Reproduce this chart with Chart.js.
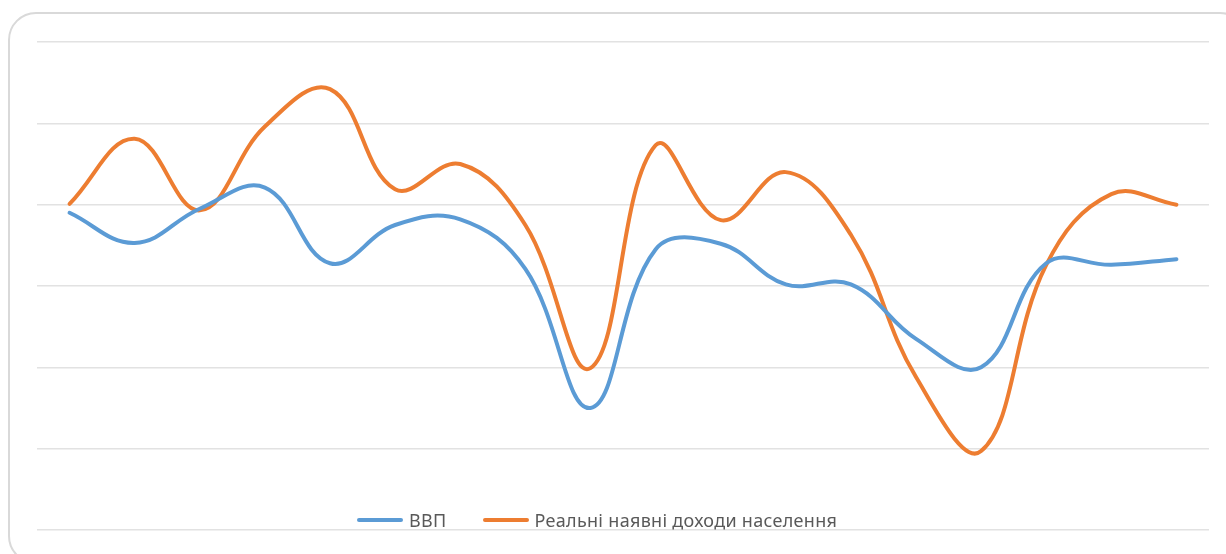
<!DOCTYPE html>
<html lang="uk">

<head>
    <meta charset="UTF-8">
    <title>ВВП та реальні наявні доходи населення</title>
    <script src="https://cdn.jsdelivr.net/npm/chart.js"></script>
    <style>
        html, body { margin: 0; padding: 0; background: #fff; overflow: hidden; }
        body { width: 1226px; height: 554px; position: relative; }
        .frame {
            position: absolute; left: 8px; top: 12px; width: 1240px; height: 552px;
            border: 2px solid #d9d9d9; border-radius: 28px; box-sizing: border-box;
        }
        .wrap { position: absolute; left: 0; top: 0; width: 1226px; height: 554px; }
        #legend {
            position: absolute; top: 508px; left: 357px; height: 24px;
            display: flex; align-items: center;
            font-family: "Noto Sans", sans-serif; font-size: 18px; letter-spacing: 0.3px; color: #595959;
        }
        #legend .item { display: flex; align-items: center; margin-right: 36px; }
        #legend .mark { width: 46px; height: 4px; border-radius: 2px; margin-right: 6px; }
    </style>
</head>

<body>
    <div class="frame"></div>
    <div class="wrap"><canvas id="chart"></canvas></div>
    <div id="legend"></div>
    <script>
        // роки (підписи осі X не показані на малюнку)
        const years = ['2001', '2002', '2003', '2004', '2005', '2006', '2007', '2008', '2009',
            '2010', '2011', '2012', '2013', '2014', '2015', '2016', '2017', '2018'];

        // ВВП, % зміни
        const gdp = [9.0, 5.3, 9.5, 12.1, 2.8, 7.5, 8.2, 2.1, -15.0,
            4.5, 5.2, 0.2, 0.2, -6.5, -10.0, 2.8, 2.6, 3.3];

        // Реальні наявні доходи населення, % зміни
        const income = [10.1, 18.1, 9.3, 19.6, 24.2, 11.9, 15.0, 7.5, -10.1,
            17.3, 8.1, 14.0, 6.3, -11.2, -20.3, 2.6, 11.3, 10.0];

        const seriesNames = ['ВВП', 'Реальні наявні доходи населення'];
        const seriesColors = ['#5B9BD5', '#ED7D31'];

        const data = {
            labels: years,
            datasets: [{
                label: seriesNames[0],
                data: gdp,
                borderColor: seriesColors[0],
                backgroundColor: seriesColors[0],
            }, {
                label: seriesNames[1],
                data: income,
                borderColor: seriesColors[1],
                backgroundColor: seriesColors[1],
            }]
        }

        const chart = new Chart(document.getElementById('chart'), {
            type: 'line',
            data: data,
            options: {
                responsive: true,
                maintainAspectRatio: false,
                animation: false,
                layout: { padding: { left: 37, right: 17, top: 42, bottom: 24 } },
                elements: {
                    line: { borderWidth: 4, tension: 0.4, borderCapStyle: 'round', borderJoinStyle: 'round' },
                    point: { radius: 0, hoverRadius: 0 }
                },
                scales: {
                    x: { display: false, offset: true },
                    y: {
                        min: -30,
                        max: 30,
                        ticks: { display: false, stepSize: 10 },
                        border: { display: false },
                        grid: { color: '#e2e2e2', lineWidth: 1.5, drawTicks: false },
                        afterFit: (scale) => { scale.width = 0; }
                    }
                },
                plugins: {
                    legend: { display: false },
                    tooltip: { enabled: false }
                }
            }
        });

        // легенда під графіком
        const legend = document.getElementById('legend');
        chart.data.datasets.forEach((ds) => {
            const item = document.createElement('div');
            item.className = 'item';
            item.innerHTML = `<span class="mark" style="background:${ds.borderColor}"></span><span>${ds.label}</span>`;
            legend.appendChild(item);
        });
    </script>
</body>

</html>
